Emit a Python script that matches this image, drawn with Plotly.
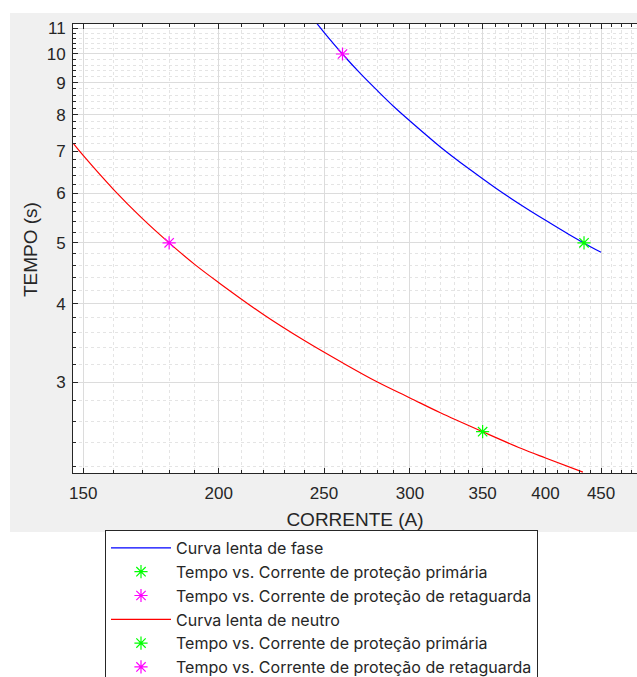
import plotly.graph_objects as go

# Slow-curve relay characteristics (time vs. current), log-log
corrente_fase = [246, 250, 260, 270, 280, 290, 300, 320, 340, 360, 380, 400, 420, 440, 450]
tempo_fase = [11.21, 10.83, 10.00, 9.31, 8.74, 8.24, 7.82, 7.11, 6.56, 6.11, 5.74, 5.43, 5.16, 4.93, 4.83]

corrente_neutro = [147, 150, 160, 170, 180, 190, 200, 220, 240, 260, 280, 300, 320, 350, 380, 400, 433]
tempo_neutro = [7.19, 6.89, 6.08, 5.47, 5.00, 4.62, 4.32, 3.84, 3.49, 3.22, 3.00, 2.83, 2.68, 2.50, 2.35, 2.27, 2.155]

# Operating points (current, time)
fase_primaria = ([434], [5.0])
fase_retaguarda = ([260], [10.0])
neutro_primaria = ([350], [2.5])
neutro_retaguarda = ([180], [5.0])

x_ticks = [150, 200, 250, 300, 350, 400, 450]
y_ticks = [3, 4, 5, 6, 7, 8, 9, 10, 11]
x_minor = [v for v in range(150, 490, 10) if v not in x_ticks]
y_minor = [round(2.2 + 0.2 * i, 1) for i in range(45)]
y_minor = [v for v in y_minor if v not in y_ticks and v <= 11.2]

lbl_primaria = "Tempo vs. Corrente de proteção primária"
lbl_retaguarda = "Tempo vs. Corrente de proteção de retaguarda"

AXIS = "#262626"
STAR = dict(symbol="asterisk-open", size=11, line=dict(width=1.2))

fig = go.Figure()
fig.add_trace(go.Scatter(x=corrente_fase, y=tempo_fase, mode="lines", line=dict(color="#0000ff", width=1.2, shape="spline"),
                         name="Curva lenta de fase"))
fig.add_trace(go.Scatter(x=fase_primaria[0], y=fase_primaria[1], mode="markers",
                         marker=dict(color="#00ff00", **STAR), name=lbl_primaria))
fig.add_trace(go.Scatter(x=fase_retaguarda[0], y=fase_retaguarda[1], mode="markers",
                         marker=dict(color="#ff00ff", **STAR), name=lbl_retaguarda))
fig.add_trace(go.Scatter(x=corrente_neutro, y=tempo_neutro, mode="lines", line=dict(color="#ff0000", width=1.2, shape="spline"),
                         name="Curva lenta de neutro"))
fig.add_trace(go.Scatter(x=neutro_primaria[0], y=neutro_primaria[1], mode="markers",
                         marker=dict(color="#00ff00", **STAR), name=lbl_primaria))
fig.add_trace(go.Scatter(x=neutro_retaguarda[0], y=neutro_retaguarda[1], mode="markers",
                         marker=dict(color="#ff00ff", **STAR), name=lbl_retaguarda))

fig.update_xaxes(
    type="log", range=[2.1667, 2.6863],
    tickmode="array", tickvals=x_ticks, ticktext=[str(v) for v in x_ticks],
    ticks="inside", ticklen=5, tickcolor=AXIS, tickwidth=1, ticklabelstandoff=5,
    showline=True, linecolor=AXIS, linewidth=1, mirror="ticks",
    showgrid=True, gridcolor="#dcdcdc", gridwidth=1,
    minor=dict(tickmode="array", tickvals=x_minor, ticks="inside", ticklen=3, tickcolor=AXIS,
               showgrid=True, gridcolor="#e4e4e4", griddash="dot", gridwidth=1),
    tickfont=dict(size=17, color=AXIS),
    title=dict(text="CORRENTE (A)", font=dict(size=19, color=AXIS), standoff=10),
    zeroline=False, automargin=False,
)
fig.update_yaxes(
    type="log", range=[0.33211, 1.04779],
    tickmode="array", tickvals=y_ticks, ticktext=[str(v) for v in y_ticks],
    ticks="inside", ticklen=5, tickcolor=AXIS, tickwidth=1, ticklabelstandoff=3,
    showline=True, linecolor=AXIS, linewidth=1, mirror=False,
    showgrid=True, gridcolor="#dcdcdc", gridwidth=1,
    minor=dict(tickmode="array", tickvals=y_minor, ticks="inside", ticklen=3, tickcolor=AXIS,
               showgrid=True, gridcolor="#e4e4e4", griddash="dot", gridwidth=1),
    tickfont=dict(size=17, color=AXIS),
    zeroline=False, automargin=False,
)

# Vertical axis title
fig.add_annotation(text="TEMPO (s)", xref="paper", yref="paper", x=-0.0762, y=0.4966,
                   textangle=-90, showarrow=False, font=dict(size=19, color=AXIS),
                   xanchor="center", yanchor="middle")

# Figure panel background (grey) and white axes area
fig.add_shape(type="rect", xref="paper", yref="paper", x0=-0.1117, x1=1.02, y0=-0.1314, y1=1.0245,
              fillcolor="#f0f0f0", line=dict(width=0), layer="below")
fig.add_shape(type="rect", xref="paper", yref="paper", x0=0, x1=1, y0=0, y1=1,
              fillcolor="white", line=dict(width=0), layer="below")

fig.update_layout(
    width=637, height=677,
    margin=dict(l=73, r=0, t=24, b=204, autoexpand=False),
    paper_bgcolor="white", plot_bgcolor="white",
    font=dict(family="Liberation Sans, Arial, sans-serif", color=AXIS),
    showlegend=True,
    legend=dict(xref="container", yref="container", x=105 / 637, y=1 - 530 / 677,
                xanchor="left", yanchor="top", bgcolor="white", bordercolor=AXIS, borderwidth=1,
                font=dict(size=16, color=AXIS, family="Inter, Liberation Sans, sans-serif"),
                itemwidth=60, tracegroupgap=0, traceorder="normal"),
)

fig.write_html("out.html", config={"displayModeBar": False})
